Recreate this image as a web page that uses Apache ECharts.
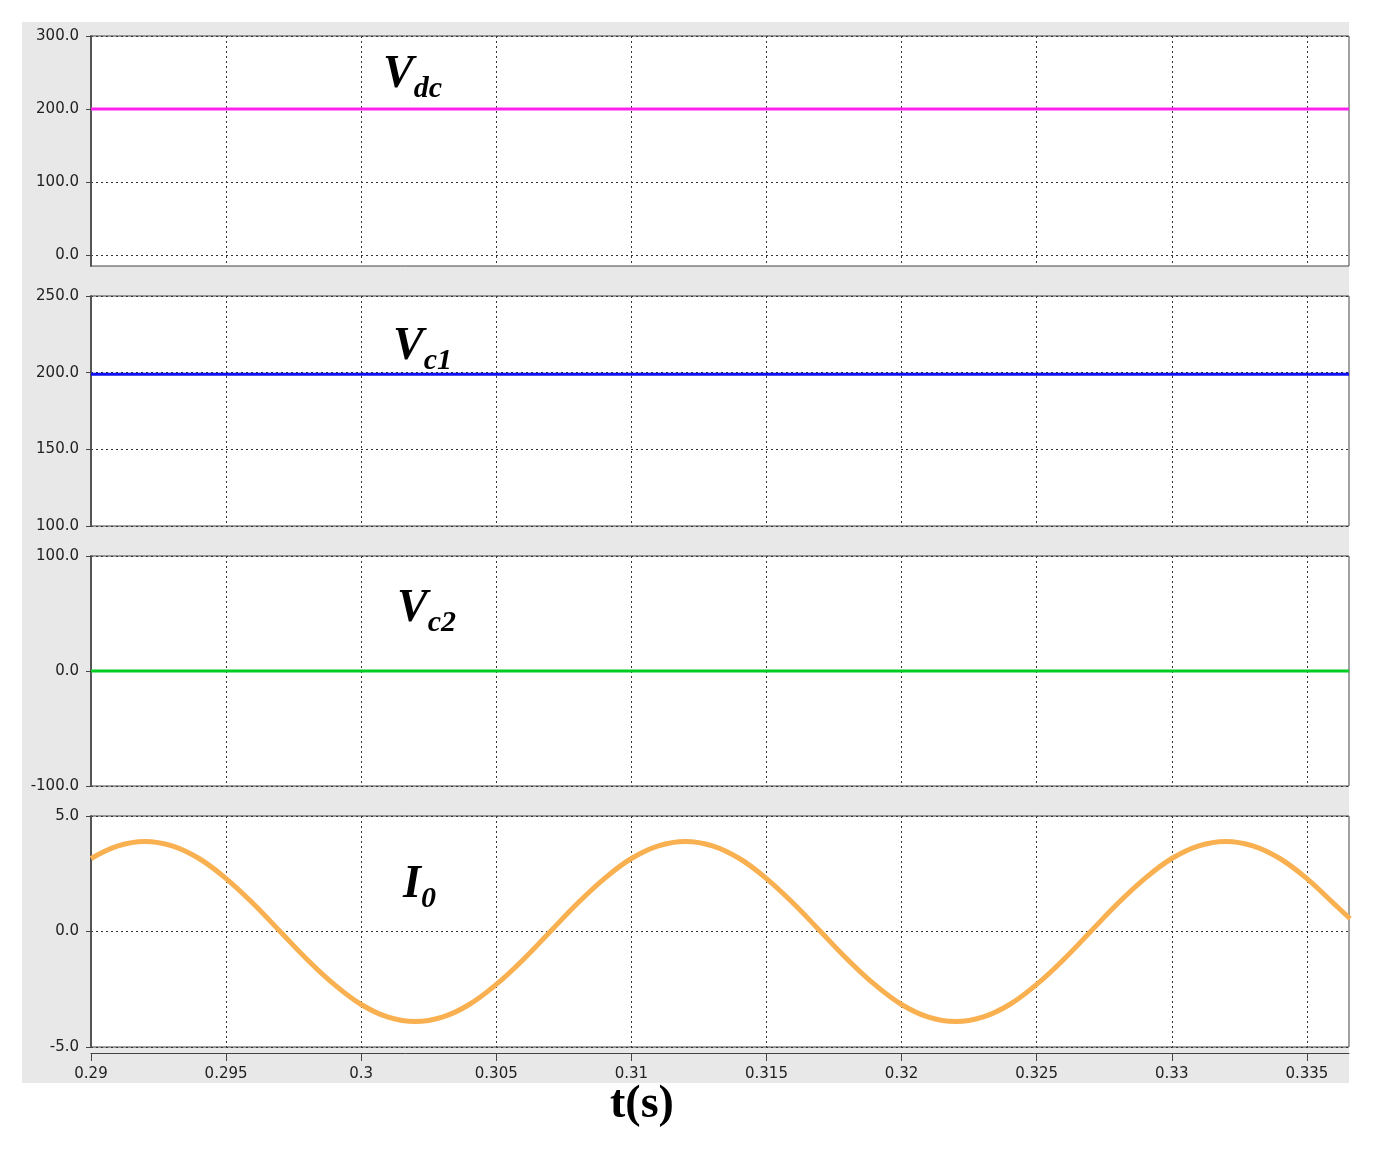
<!DOCTYPE html>
<html><head><meta charset="utf-8">
<script src="https://cdn.jsdelivr.net/npm/echarts@6/dist/echarts.min.js"></script>
<style>html,body{margin:0;padding:0;background:#fff}#c{width:1382px;height:1150px}</style>
</head><body><div id="c"></div>
<script>
const vdcData = [[0.29,200],[0.33656,200]];
const vc1Data = [[0.29,199],[0.33656,199]];
const vc2Data = [[0.29,0],[0.33656,0]];
const ioTimes = [0.290,0.291,0.292,0.293,0.294,0.295,0.296,0.297,0.298,0.299,0.300,0.301,0.302,0.303,0.304,0.305,0.306,0.307,0.308,0.309,
0.310,0.311,0.312,0.313,0.314,0.315,0.316,0.317,0.318,0.319,0.320,0.321,0.322,0.323,0.324,0.325,0.326,0.327,0.328,0.329,
0.330,0.331,0.332,0.333,0.334,0.335,0.336,0.3366];
const ioValues = [3.16,3.71,3.90,3.71,3.16,2.29,1.21,0,-1.21,-2.29,-3.16,-3.71,-3.90,-3.71,-3.16,-2.29,-1.21,0,1.21,2.29,
3.16,3.71,3.90,3.71,3.16,2.29,1.21,0,-1.21,-2.29,-3.16,-3.71,-3.90,-3.71,-3.16,-2.29,-1.21,0,1.21,2.29,
3.16,3.71,3.90,3.71,3.16,2.29,1.21,0.55];
const xTicks = [0.29,0.295,0.3,0.305,0.31,0.315,0.32,0.325,0.33,0.335];
const panels = [
  {min:-15,max:300,ticks:[0,100,200,300]},
  {min:100,max:250,ticks:[100,150,200,250]},
  {min:-100,max:100,ticks:[-100,0,100]},
  {min:-5,max:5,ticks:[-5,0,5]}
];
const tops=[36,296,556,816], hs=[230,230,230,231];
const chart = echarts.init(document.getElementById('c'));
const lbl = {fontFamily:'DejaVu Sans',fontSize:15,color:'#222'};
const split = {show:true,lineStyle:{type:[2,3],color:'#333',width:1}};
const grid = tops.map((t,i)=>({left:91,right:33,top:t,height:hs[i],show:true,backgroundColor:'#fff',borderColor:'#444',borderWidth:1}));
const xAxis = tops.map((t,i)=>({type:'value',gridIndex:i,min:0.29,max:0.33656,interval:0.005,
  axisLine:{show:i===3,onZero:false,lineStyle:{color:'#444'}},offset:i===3?6:0,
  axisTick:{show:i===3,length:8,inside:false,lineStyle:{color:'#444'},customValues:xTicks},
  axisLabel:{show:i===3,...lbl,margin:14,customValues:xTicks,formatter:v=>String(+v.toFixed(3))},
  splitLine:{...split,customValues:xTicks}}));
const yAxis = panels.map((p,i)=>({type:'value',gridIndex:i,min:p.min,max:p.max,
  axisLine:{show:true,lineStyle:{color:'#555',width:2}},
  axisTick:{show:true,length:5,lineStyle:{color:'#444'},customValues:p.ticks},
  axisLabel:{...lbl,margin:12,customValues:p.ticks,formatter:v=>v.toFixed(1)},
  splitLine:{...split,customValues:p.ticks}}));
const sym={symbol:'none',animation:false};
const lab = (x,y,main,sub)=>({type:'text',left:x,top:y,style:{text:'{m|'+main+'}{s|'+sub+'}',rich:{
  m:{fontFamily:'Liberation Serif',fontStyle:'italic',fontWeight:'bold',fontSize:46,fill:'#000'},
  s:{fontFamily:'Liberation Serif',fontStyle:'italic',fontWeight:'bold',fontSize:30,fill:'#000',verticalAlign:'bottom',padding:[0,0,-6,0]}}}});
chart.setOption({
  backgroundColor:'#fff',
  graphic:[
    {type:'rect',z:-10,shape:{x:22,y:22,width:1327,height:1061},style:{fill:'#e8e8e8'}},
    lab(383,52,'V','dc'), lab(393,324,'V','c1'), lab(397,586,'V','c2'), lab(403,862,'I','0'),
    {type:'text',left:610,top:1082,style:{text:'t(s)',fontFamily:'Liberation Serif',fontWeight:'bold',fontSize:46,fill:'#000'}}
  ],
  grid, xAxis, yAxis,
  series:[
    {type:'line',xAxisIndex:0,yAxisIndex:0,data:vdcData,lineStyle:{color:'#ff22ee',width:3},...sym},
    {type:'line',xAxisIndex:1,yAxisIndex:1,data:vc1Data,lineStyle:{color:'#1010f0',width:3},...sym},
    {type:'line',xAxisIndex:2,yAxisIndex:2,data:vc2Data,lineStyle:{color:'#00cc22',width:3},...sym},
    {type:'line',xAxisIndex:3,yAxisIndex:3,smooth:0.4,data:ioTimes.map((t,i)=>[t,ioValues[i]]),lineStyle:{color:'#f8b050',width:5},...sym}
  ]
});
</script></body></html>
